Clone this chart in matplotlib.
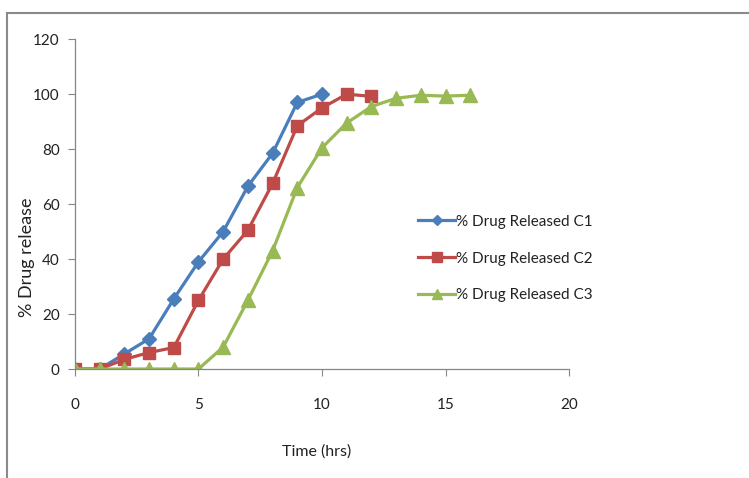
import matplotlib
matplotlib.use("Agg")
import matplotlib.pyplot as plt
from matplotlib.lines import Line2D

plt.rcParams['font.family'] = ['Lato', 'DejaVu Sans']

# Release data (% drug released vs time in hours)
time_c1 = [0, 1, 2, 3, 4, 5, 6, 7, 8, 9, 10]
rel_c1 = [0, 0, 5.5, 11, 25.5, 39, 50, 66.5, 78.5, 97, 100]

time_c2 = [0, 1, 2, 3, 4, 5, 6, 7, 8, 9, 10, 11, 12]
rel_c2 = [0, 0, 3.5, 6, 7.8, 25, 40, 50.5, 67.5, 88.5, 95, 100, 99.2]

time_c3 = [0, 1, 2, 3, 4, 5, 6, 7, 8, 9, 10, 11, 12, 13, 14, 15, 16]
rel_c3 = [0, 0, 0, 0, 0, 0, 8, 25, 43, 66, 80.5, 89.5, 95.5, 98.5, 99.6, 99.3, 99.6]

labels = ['% Drug Released C1', '% Drug Released C2', '% Drug Released C3']
colors = ['#4A7EBB', '#BE4B48', '#98B954']

fig = plt.figure(figsize=(7.49, 4.78), dpi=100)
ax = fig.add_axes([0.1001, 0.228, 0.6596, 0.690])

ax.plot(time_c1, rel_c1, color=colors[0], lw=2.3, marker='D', ms=7, label=labels[0])
ax.plot(time_c2, rel_c2, color=colors[1], lw=2.3, marker='s', ms=8.5, label=labels[1])
ax.plot(time_c3, rel_c3, color=colors[2], lw=2.3, marker='^', ms=9.5, label=labels[2])

ax.set_xlim(0, 20)
ax.set_ylim(0, 120)
ax.set_xticks([0, 5, 10, 15, 20])
ax.set_yticks([0, 20, 40, 60, 80, 100, 120])

for side in ['top', 'right']:
    ax.spines[side].set_visible(False)
for side in ['left', 'bottom']:
    ax.spines[side].set_color('#868686')
    ax.spines[side].set_linewidth(0.9)
ax.tick_params(axis='both', direction='out', color='#868686', length=5,
               labelsize=11, labelcolor='#222222')
ax.tick_params(axis='x', pad=16)
ax.tick_params(axis='y', pad=6)

ax.set_xlabel('Time (hrs)', fontsize=11.5, color='#222222')
ax.xaxis.set_label_coords(0.49, -0.23)
ax.set_ylabel('% Drug release', fontsize=13, color='#222222')
ax.yaxis.set_label_coords(-0.08, 0.34)

ax.legend(loc='center left', bbox_to_anchor=(0.667, 0.335), frameon=False,
          fontsize=11, labelspacing=1.5, handlelength=2.4, handletextpad=0.1,
          markerscale=0.8, labelcolor='#222222')

# thin gray frame around the chart area
fig.add_artist(Line2D([0.0093, 1.0], [0.973, 0.973], color='#8a8a8a', lw=1.5))
fig.add_artist(Line2D([0.0093, 0.0093], [0.0, 0.973], color='#8a8a8a', lw=1.5))

fig.savefig('out.png', dpi=100)
